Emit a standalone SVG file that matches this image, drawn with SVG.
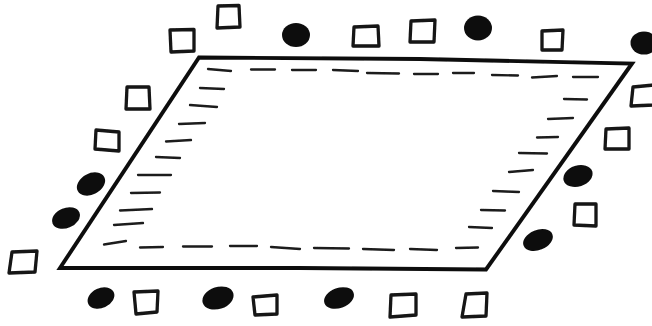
<svg xmlns="http://www.w3.org/2000/svg" width="652" height="326" viewBox="0 0 652 326">
<defs>
<style>
.s{fill:none;stroke:#141414;stroke-width:3.300;stroke-linejoin:round}
.d{fill:#111}
.b{fill:none;stroke:#0c0c0c;stroke-width:3.900;stroke-linejoin:miter}
.h{fill:none;stroke:#1c1c1c;stroke-width:2.300;stroke-linecap:round}
</style>
<filter id="soft" x="-5%" y="-5%" width="110%" height="110%"><feGaussianBlur stdDeviation="0.45"/></filter>
</defs>
<rect width="652" height="326" fill="#fff"/>
<g filter="url(#soft)">
<g id="outline"><path class="b" d="M199 57.500 L420 59 L632 63.500 L486 269.500 L300 268 L60 268 Z"/></g>
<g id="inner-dashes">
<path class="h" d="M208 69L231 71M251 69.500L275 69.500M292 70L316 70M333 70L358 71M367 73L399 73.500M414 74L438 74M453 73L474 73M492 75L518 75.500M532 77.500L557 76M573 77L598 77"/>
<path class="h" d="M564 99L587 99.500M548 119L573 118M537 137.500L558 137M519 153L547 153.500M509 172L533 170M493 191L519 192M481 210L505 210.500M469 227L492 228M456 248L478 247.500"/>
<path class="h" d="M410 249L437 250M363 249L394 250M314 248L349 248.500M271 247L300 249M230 246L257 246M183 246.500L212 246.500M140 247.500L163 247"/>
<path class="h" d="M104 244.500L126 241M114 225L143 223M120 210.500L152 209M131 193L160 192.500M138 175L171 175M156 157L180 158M166 141.500L191 140M179 124L205 123M190 105L217 107M200 88L224 89"/>
</g>
<g id="squares">
<path class="s" d="M170 30L194 29.500L194 51L171 52Z"/>
<path class="s" d="M218 6L239 5.500L240 27L217 28Z"/>
<path class="s" d="M127 87L149 87L150 109L126 109Z"/>
<path class="s" d="M96 130L119 132L119 151L95 149Z"/>
<path class="s" d="M354 27L378 26L379 46L353 46Z"/>
<path class="s" d="M411 21L435 20L434 42L410 42Z"/>
<path class="s" d="M542 31L563 30L562 50L542 50Z"/>
<path class="s" d="M633 87L654 85L654 105L631 106Z"/>
<path class="s" d="M606 129L629 128L629 149L605 149Z"/>
<path class="s" d="M575 204L596 204L596 226L574 225Z"/>
<path class="s" d="M12 252L37 251L35 272L9 273Z"/>
<path class="s" d="M134 292L158 291L157 312L136 314Z"/>
<path class="s" d="M253 297L277 295L277 314L255 315Z"/>
<path class="s" d="M391 295L416 294L416 315L390 317Z"/>
<path class="s" d="M466 294L487 293L486 316L462 317Z"/>
</g>
<g id="dots">
<ellipse class="d" cx="296" cy="35" rx="14" ry="12"/>
<ellipse class="d" cx="478" cy="28" rx="14" ry="12.500"/>
<ellipse class="d" cx="644" cy="43" rx="13.500" ry="11.500"/>
<ellipse class="d" cx="578" cy="176" rx="15" ry="10.500" transform="rotate(-18 578 176)"/>
<ellipse class="d" cx="538" cy="240" rx="15.500" ry="10" transform="rotate(-22 538 240)"/>
<ellipse class="d" cx="91" cy="184" rx="15" ry="10.500" transform="rotate(-28 91 184)"/>
<ellipse class="d" cx="66" cy="218" rx="14.500" ry="10" transform="rotate(-22 66 218)"/>
<ellipse class="d" cx="101" cy="298" rx="14" ry="10" transform="rotate(-25 101 298)"/>
<ellipse class="d" cx="218" cy="298" rx="16" ry="11" transform="rotate(-18 218 298)"/>
<ellipse class="d" cx="339" cy="298" rx="15.500" ry="10" transform="rotate(-20 339 298)"/>
</g>
</g>
</svg>
